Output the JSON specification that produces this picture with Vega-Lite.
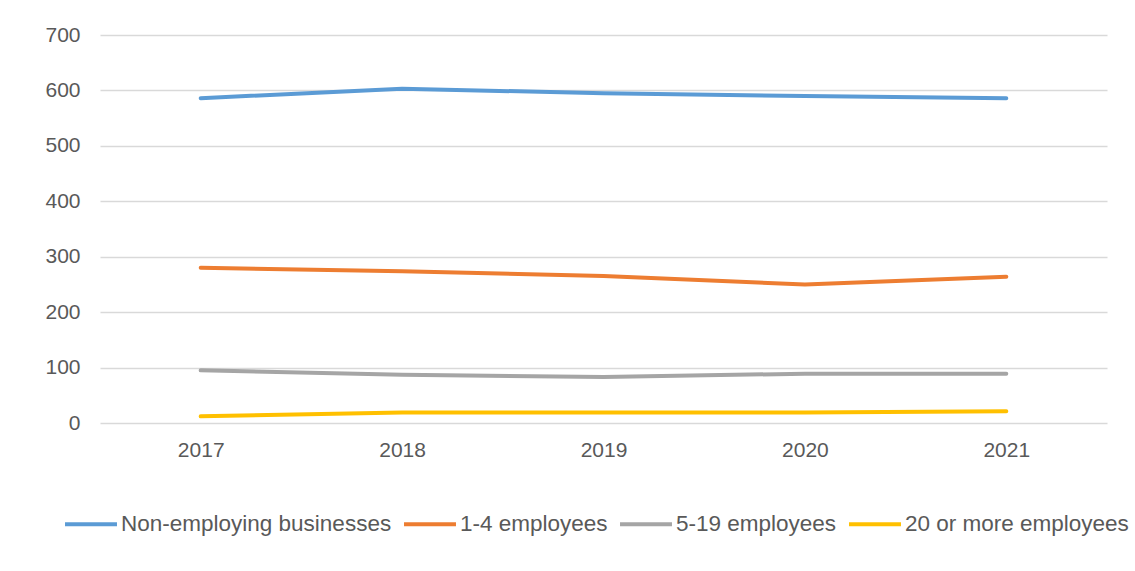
{
  "$schema": "https://vega.github.io/schema/vega-lite/v6.json",
  "width": 1007,
  "height": 388,
  "autosize": {"type": "none"},
  "padding": {"left": 100, "top": 35, "right": 28, "bottom": 148},
  "background": "white",
  "config": {
    "font": "Liberation Sans",
    "view": {"stroke": null},
    "axis": {"labelFont": "Liberation Sans", "labelColor": "#595959", "labelFontSize": 21}
  },
  "data": {
    "values": [
      {"year": "2017", "series": "Non-employing businesses", "value": 586},
      {"year": "2018", "series": "Non-employing businesses", "value": 603},
      {"year": "2019", "series": "Non-employing businesses", "value": 595},
      {"year": "2020", "series": "Non-employing businesses", "value": 590},
      {"year": "2021", "series": "Non-employing businesses", "value": 586},
      {"year": "2017", "series": "1-4 employees", "value": 280},
      {"year": "2018", "series": "1-4 employees", "value": 274},
      {"year": "2019", "series": "1-4 employees", "value": 265},
      {"year": "2020", "series": "1-4 employees", "value": 250},
      {"year": "2021", "series": "1-4 employees", "value": 264},
      {"year": "2017", "series": "5-19 employees", "value": 95},
      {"year": "2018", "series": "5-19 employees", "value": 87},
      {"year": "2019", "series": "5-19 employees", "value": 83},
      {"year": "2020", "series": "5-19 employees", "value": 89},
      {"year": "2021", "series": "5-19 employees", "value": 89},
      {"year": "2017", "series": "20 or more employees", "value": 12},
      {"year": "2018", "series": "20 or more employees", "value": 19},
      {"year": "2019", "series": "20 or more employees", "value": 19},
      {"year": "2020", "series": "20 or more employees", "value": 19},
      {"year": "2021", "series": "20 or more employees", "value": 21}
    ]
  },
  "mark": {"type": "line", "strokeWidth": 4, "strokeCap": "round", "strokeJoin": "round"},
  "encoding": {
    "x": {
      "field": "year", "type": "ordinal",
      "scale": {"type": "point", "padding": 0.5},
      "axis": {"title": null, "labelAngle": 0, "ticks": false, "domain": false, "grid": false, "labelPadding": 16}
    },
    "y": {
      "field": "value", "type": "quantitative",
      "scale": {"domain": [0, 700]},
      "axis": {"title": null, "values": [0,100,200,300,400,500,600,700], "ticks": false, "domain": false, "gridColor": "#d9d9d9", "gridWidth": 1.3, "labelPadding": 20}
    },
    "color": {
      "field": "series", "type": "nominal",
      "scale": {
        "domain": ["Non-employing businesses", "1-4 employees", "5-19 employees", "20 or more employees"],
        "range": ["#5b9bd5", "#ed7d31", "#a5a5a5", "#ffc000"]
      },
      "legend": {
        "title": null, "orient": "none", "direction": "horizontal", "columns": 4,
        "legendX": -37, "legendY": 461,
        "symbolType": "stroke", "symbolSize": 2700, "symbolStrokeWidth": 4,
        "labelFontSize": 22.5, "labelColor": "#595959", "labelFont": "Liberation Sans",
        "labelOffset": 2, "columnPadding": 4, "labelLimit": 400
      }
    }
  }
}
